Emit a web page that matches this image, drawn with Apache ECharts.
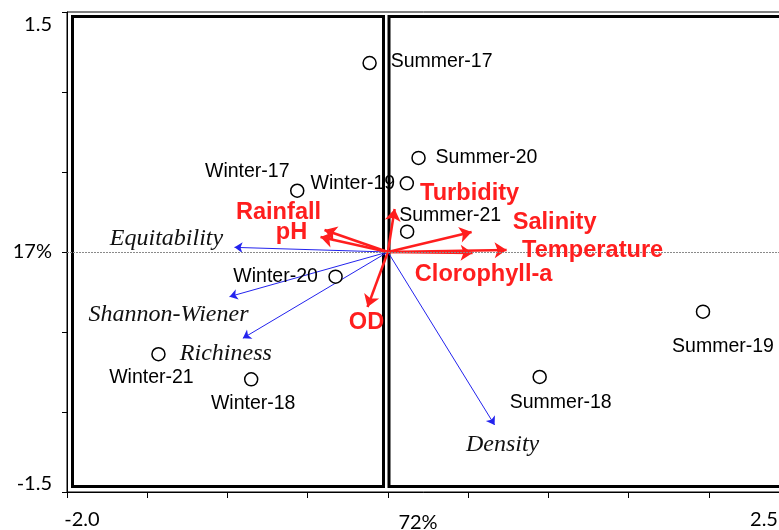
<!DOCTYPE html>
<html><head><meta charset="utf-8">
<script src="https://cdn.jsdelivr.net/npm/echarts@6/dist/echarts.min.js"></script>
<style>html,body{margin:0;padding:0;background:#fff}#c{width:779px;height:530px}</style>
</head><body><div id="c"></div>
<script>
// ---- data ----
const sampleNames = ['Summer-17','Summer-20','Winter-17','Winter-19','Summer-21','Winter-20','Winter-21','Winter-18','Summer-18','Summer-19'];
const sampleX = [-0.114, 0.191, -0.565, 0.118, 0.120, -0.326, -1.430, -0.852, 0.946, 1.964];
const sampleY = [1.181, 0.588, 0.383, 0.429, 0.127, -0.154, -0.639, -0.796, -0.781, -0.373];

const envNames = ['Turbidity','Rainfall','pH','Salinity','Temperature','Clorophyll-a','OD'];
const envX = [0.042, -0.395, -0.420, 0.522, 0.740, 0.528, -0.127];
const envY = [0.269, 0.1375, 0.094, 0.125, 0.0125, -0.006, -0.344];

const bioNames = ['Equitability','Shannon-Wiener','Richiness','Density'];
const bioX = [-0.956, -0.987, -0.904, 0.665];
const bioY = [0.029, -0.279, -0.539, -1.081];

const xTickLabels = {'-2': 'l|-2.0', '2.5': 'r|2.5'};
const yTickLabels = {'1.5': 't|1.5', '0': 'm|17%', '-1.5': 'b|-1.5'};
const xAxisTitle = '72%';

// ---- layout (label offsets in px, relative to anchor) ----
const sampleLabelOffset = [[72,-1],[68,0],[-50,-19],[-54,0],[43,-16],[-60,0],[-7,23],[2,24],[21,26],[20,35]];
const envLabelOffset = [[75,-15],[-46,-18],[-29,-4],[83,-10],[86,0],[11,22],[-1,15]];
const bioLabelOffset = [[-68,-9],[-61,18],[-17,15],[8,20]];

const RED = '#ff1e1e', BLUE = '#2323ee';
const tickFont = {fontFamily: 'Lato', fontSize: 20, color: '#000'};

const chart = echarts.init(document.getElementById('c'), null, {renderer: 'canvas'});
chart.setOption({
  animation: false,
  backgroundColor: '#fff',
  grid: {left: 67, top: 12, width: 722, height: 480, show: true, borderColor: '#000', borderWidth: 1,
         containLabel: false, outerBoundsMode: 'none'},
  xAxis: {
    type: 'value', min: -2, max: 2.5, interval: 0.5,
    axisLine: {show: true, onZero: false, lineStyle: {color: '#000', width: 1}},
    axisTick: {show: true, length: 6, lineStyle: {color: '#000'}},
    splitLine: {show: false},
    axisLabel: {
      margin: 18, ...tickFont,
      formatter: v => { const k = xTickLabels[String(v)]; return k ? '{' + k + '}' : ''; },
      rich: {
        l: {...tickFont, padding: [0, 0, 0, 30]},
        r: {...tickFont, padding: [0, 50, 0, 0]}
      }
    },
    name: xAxisTitle, nameLocation: 'middle', nameGap: 21, nameMoveOverlap: false,
    nameTextStyle: {...tickFont, padding: [0, 20, 0, 0]}
  },
  yAxis: {
    type: 'value', min: -1.5, max: 1.5, interval: 0.5,
    axisLine: {show: true, onZero: false, lineStyle: {color: '#000', width: 1}},
    axisTick: {show: true, length: 5, lineStyle: {color: '#000'}},
    splitLine: {show: false},
    axisLabel: {
      margin: 15, ...tickFont,
      formatter: v => { const k = yTickLabels[String(v)]; return k ? '{' + k + '}' : ''; },
      rich: {
        t: {...tickFont, padding: [26, 0, 0, 0]},
        m: {...tickFont},
        b: {...tickFont, padding: [0, 0, 16, 0]}
      }
    }
  },
  graphic: [
    {type: 'rect', z: 0, silent: true, shape: {x: 72.5, y: 16.5, width: 311, height: 470},
     style: {fill: 'none', stroke: '#000', lineWidth: 3}},
    {type: 'rect', z: 0, silent: true, shape: {x: 389, y: 16.5, width: 500, height: 470},
     style: {fill: 'none', stroke: '#000', lineWidth: 3}}
  ],
  series: [
    {
      type: 'scatter', name: 'axis0', data: [], z: 1,
      markLine: {
        silent: true, symbol: ['none', 'none'], label: {show: false},
        lineStyle: {color: '#8a8a8a', width: 1, type: [2, 1]},
        data: [{yAxis: 0}]
      }
    },
    {
      type: 'lines', coordinateSystem: 'cartesian2d', z: 3,
      symbol: ['none', 'arrow'], symbolSize: 8,
      lineStyle: {color: BLUE, width: 1, opacity: 1},
      data: bioNames.map((n, i) => ({name: n, coords: [[0, 0], [bioX[i], bioY[i]]]}))
    },
    {
      type: 'lines', coordinateSystem: 'cartesian2d', z: 4,
      symbol: ['none', 'arrow'], symbolSize: 12,
      lineStyle: {color: RED, width: 2.5, opacity: 1},
      data: envNames.map((n, i) => ({name: n, coords: [[0, 0], [envX[i], envY[i]]]}))
    },
    {
      type: 'scatter', z: 5, symbolSize: 0, itemStyle: {color: 'transparent', opacity: 1},
      label: {show: true, position: 'inside', formatter: '{b}', color: '#111',
        fontFamily: 'Liberation Serif', fontStyle: 'italic', fontSize: 24},
      data: bioNames.map((n, i) => ({name: n, value: [bioX[i], bioY[i]], label: {offset: bioLabelOffset[i]}}))
    },
    {
      type: 'scatter', z: 6, symbolSize: 0, itemStyle: {color: 'transparent', opacity: 1},
      label: {show: true, position: 'inside', formatter: '{b}', color: RED,
        fontFamily: 'Liberation Sans', fontWeight: 'bold', fontSize: 23.6},
      data: envNames.map((n, i) => ({name: n, value: [envX[i], envY[i]], label: {offset: envLabelOffset[i]}}))
    },
    {
      type: 'scatter', z: 7, symbol: 'circle', symbolSize: 13,
      itemStyle: {color: '#fff', borderColor: '#000', borderWidth: 1.5, opacity: 1},
      label: {show: true, position: 'inside', formatter: '{b}', color: '#000',
        fontFamily: 'Liberation Sans', fontSize: 19.5},
      data: sampleNames.map((n, i) => ({name: n, value: [sampleX[i], sampleY[i]], label: {offset: sampleLabelOffset[i]}}))
    }
  ]
});
</script></body></html>
